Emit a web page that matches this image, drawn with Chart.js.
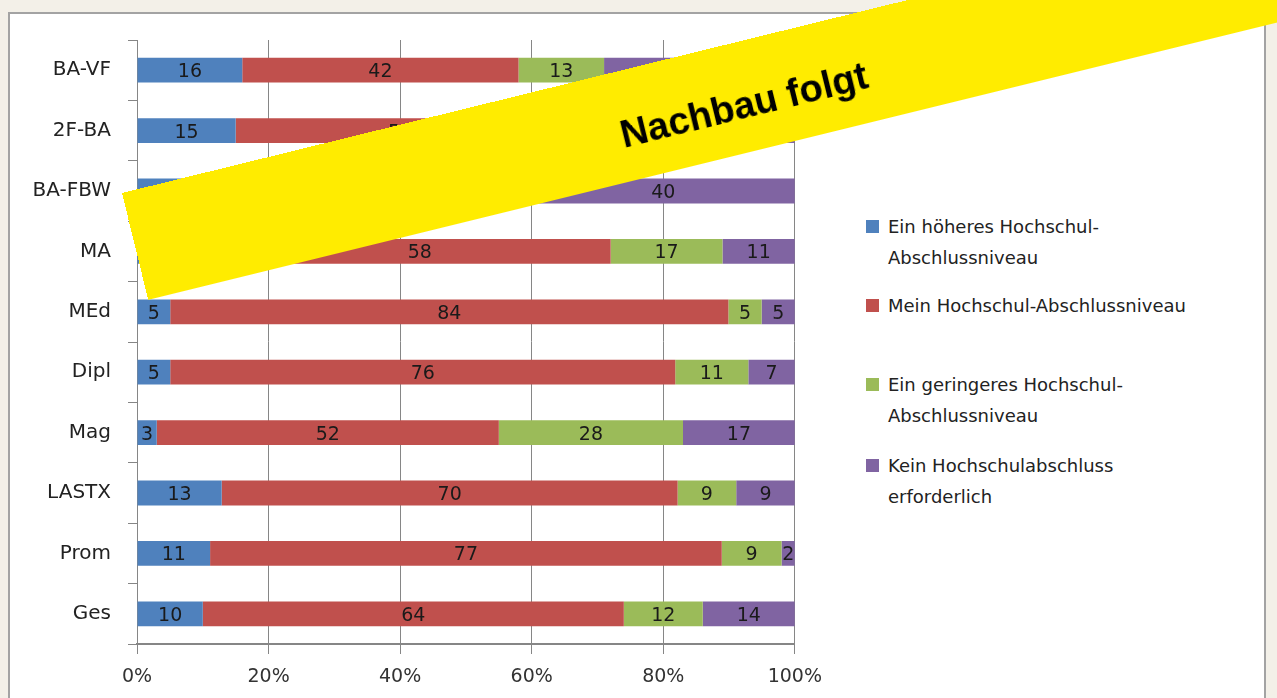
<!DOCTYPE html>
<html lang="de">
<head>
<meta charset="utf-8">
<title>Hochschul-Abschlussniveau</title>
<script src="https://cdn.jsdelivr.net/npm/chart.js@4"></script>
<style>
  html, body { margin: 0; padding: 0; }
  body { width: 1277px; height: 698px; background: #f3f0e8; position: relative; overflow: hidden; font-family: "DejaVu Sans", sans-serif; }
  #panel { position: absolute; left: 8px; top: 12px; width: 1258px; height: 700px; background: #fff; border: 2px solid #a3a3a3; box-sizing: border-box; }
  #chartBox { position: absolute; left: 0; top: 0; width: 834px; height: 698px; }
  .legend-item { position: absolute; left: 866px; font-size: 18px; line-height: 31px; color: #222; }
  .legend-item .sw { position: absolute; left: 0; top: 9px; width: 13px; height: 13px; }
  .legend-item .tx { margin-left: 22px; white-space: nowrap; }
  #banner { position: absolute; left: 122px; top: 193px; width: 1400px; height: 110px; background: #ffec00; transform-origin: 0 0; transform: rotate(-13.8deg); }
  #banner span { position: absolute; left: 0; top: 8px; width: 1250px; line-height: 110px; text-align: center; font-family: "Liberation Sans", Arial, sans-serif; font-weight: bold; font-size: 38px; color: #000; }
</style>
</head>
<body>
<div id="panel"></div>
<div id="chartBox"><canvas id="abschlussChart"></canvas></div>
<div id="legend"></div>
<div id="banner"><span>Nachbau folgt</span></div>

<script>
// Kategorien (von oben nach unten)
const categories = ['BA-VF', '2F-BA', 'BA-FBW', 'MA', 'MEd', 'Dipl', 'Mag', 'LASTX', 'Prom', 'Ges'];

// Anteile in Prozent je Kategorie (gerundete Werte wie beschriftet)
const hoeher    = [16, 15, 10, 14,  5,  5,  3, 13, 11, 10];
const passend   = [42, 50, 38, 58, 84, 76, 52, 70, 77, 64];
const geringer  = [13, 15, 12, 17,  5, 11, 28,  9,  9, 12];
const keiner    = [29, 20, 40, 11,  5,  7, 17,  9,  2, 14];

const seriesNames = [
    ['Ein höheres Hochschul-', 'Abschlussniveau'],
    ['Mein Hochschul-Abschlussniveau'],
    ['Ein geringeres Hochschul-', 'Abschlussniveau'],
    ['Kein Hochschulabschluss', 'erforderlich']
];
const seriesColors = ['#4f81bd', '#c0504d', '#9bbb59', '#8064a2'];
const xTicks = [0, 20, 40, 60, 80, 100];

const FONT = "'DejaVu Sans', sans-serif";
const AXIS_GRAY = '#868686';

document.addEventListener("DOMContentLoaded", () => {
    buildLegend();
    initChart();
});

/**
 * Legend on the right, built as plain HTML
 */
function buildLegend() {
    const tops = [211, 290, 369, 450];
    const box = document.getElementById("legend");
    seriesNames.forEach((lines, i) => {
        const item = document.createElement("div");
        item.className = "legend-item";
        item.style.top = tops[i] + "px";
        item.innerHTML = `<div class="sw" style="background:${seriesColors[i]}"></div>` +
            `<div class="tx">${lines.join('<br>')}</div>`;
        box.appendChild(item);
    });
}

// draws the raw value in the middle of each bar segment
const segmentLabels = {
    id: 'segmentLabels',
    afterDatasetsDraw(chart) {
        const ctx = chart.ctx;
        ctx.save();
        ctx.font = "19px " + FONT;
        ctx.fillStyle = '#1a1a1a';
        ctx.textAlign = 'center';
        ctx.textBaseline = 'middle';
        chart.data.datasets.forEach((ds, di) => {
            const meta = chart.getDatasetMeta(di);
            meta.data.forEach((el, i) => {
                const v = ds.rawValues[i];
                if (!v) return;
                ctx.fillText(String(v), (el.x + el.base) / 2, el.y + 2);
            });
        });
        ctx.restore();
    }
};

function initChart() {
    const ctx = document.getElementById('abschlussChart');
    const allSeries = [hoeher, passend, geringer, keiner];

    // 100%-Stapel: jede Zeile auf ihre Summe normieren (wie in Excel)
    const rowSums = categories.map((_, i) => allSeries.reduce((s, arr) => s + arr[i], 0));

    new Chart(ctx, {
        type: 'bar',
        data: {
            labels: categories,
            datasets: allSeries.map((data, i) => ({
                label: seriesNames[i].join(' '),
                data: data.map((v, j) => v / rowSums[j] * 100),
                rawValues: data,
                backgroundColor: seriesColors[i],
                borderWidth: 0,
                categoryPercentage: 1,
                barPercentage: 0.41
            }))
        },
        options: {
            indexAxis: 'y',
            responsive: true,
            maintainAspectRatio: false,
            animation: false,
            layout: { padding: { top: 40, right: 36, left: 0, bottom: 0 } },
            plugins: {
                legend: { display: false },
                tooltip: { enabled: false }
            },
            scales: {
                x: {
                    stacked: true,
                    min: 0,
                    max: 100,
                    afterBuildTicks: (scale) => { scale.ticks = xTicks.map(v => ({ value: v })); },
                    ticks: {
                        callback: (v) => v + '%',
                        font: { family: FONT, size: 19 },
                        color: '#333',
                        padding: 12,
                        maxRotation: 0
                    },
                    grid: { color: AXIS_GRAY, lineWidth: 1, tickLength: 10 },
                    border: { color: AXIS_GRAY, width: 2 },
                    afterFit: (s) => { s.height = 54; }
                },
                y: {
                    stacked: true,
                    ticks: {
                        font: { family: FONT, size: 20 },
                        color: '#222',
                        padding: 17
                    },
                    grid: { drawOnChartArea: false, color: AXIS_GRAY, tickLength: 9, offset: true },
                    border: { color: AXIS_GRAY, width: 1 },
                    afterFit: (s) => { s.width = 137; }
                }
            }
        },
        plugins: [segmentLabels]
    });
}
</script>
</body>
</html>
